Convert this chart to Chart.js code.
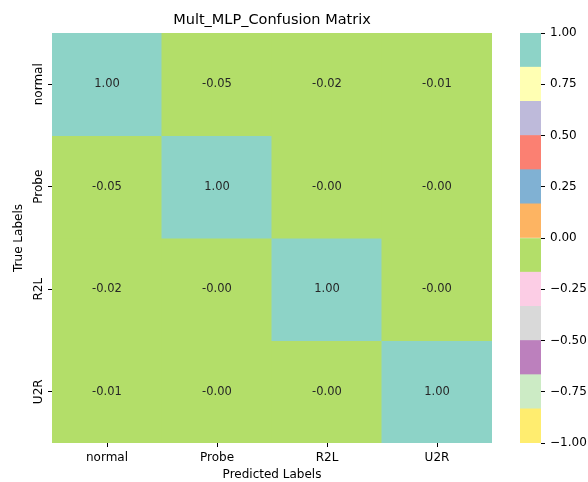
<!DOCTYPE html>
<html>
<head>
<meta charset="utf-8">
<script src="https://cdn.jsdelivr.net/npm/chart.js@4/dist/chart.umd.min.js"></script>
<style>
  html, body { margin: 0; padding: 0; background: #ffffff; }
  #wrap { position: relative; width: 588px; height: 482px; }
  #wrap canvas { position: absolute; left: 0; top: 0; }
</style>
</head>
<body>
<div id="wrap">
  <canvas id="heat" width="588" height="482"></canvas>
  <canvas id="cbar" width="588" height="482"></canvas>
</div>
<script>
// Class names (columns = predicted, rows = true)
const predictedLabels = ['normal', 'Probe', 'R2L', 'U2R'];
const trueLabels = ['normal', 'Probe', 'R2L', 'U2R'];

// One row of the matrix per true class
const rowNormal = [1.00, -0.05, -0.02, -0.01];
const rowProbe  = [-0.05, 1.00, -0.004, -0.003];
const rowR2L    = [-0.02, -0.004, 1.00, -0.002];
const rowU2R    = [-0.01, -0.003, -0.002, 1.00];
const matrixRows = [rowNormal, rowProbe, rowR2L, rowU2R];

// Colour scale range and its tick labels
const vMin = -1;
const vMax = 1;
const colorbarTicks = [-1.00, -0.75, -0.50, -0.25, 0.00, 0.25, 0.50, 0.75, 1.00];

// Reversed Set3 palette, listed from the low end to the high end
const palette = ['#ffed6f', '#ccebc5', '#bc80bd', '#d9d9d9', '#fccde5', '#b3de69',
                 '#fdb462', '#80b1d3', '#fb8072', '#bebada', '#ffffb3', '#8dd3c7'];

function colorFor(v) {
  let idx = Math.floor((v - vMin) / (vMax - vMin) * palette.length);
  idx = Math.max(0, Math.min(palette.length - 1, idx));
  return palette[idx];
}

const FONT = '"DejaVu Sans", sans-serif';
Chart.defaults.font.family = FONT;
Chart.defaults.color = '#000000';

// ---------- heatmap ----------
const heatDatasets = matrixRows.map((row, r) => ({
  label: trueLabels[r],
  data: row.map(() => [r, r + 1]),
  values: row,
  backgroundColor: row.map(colorFor),
  borderWidth: 0,
  inflateAmount: 0.5,
  barPercentage: 1,
  categoryPercentage: 1,
  grouped: false
}));

const cellText = {
  id: 'cellText',
  afterDatasetsDraw(chart) {
    const ctx = chart.ctx;
    ctx.save();
    ctx.font = '11.5px ' + FONT;
    ctx.fillStyle = '#262626';
    ctx.textAlign = 'center';
    ctx.textBaseline = 'middle';
    chart.data.datasets.forEach((ds, di) => {
      chart.getDatasetMeta(di).data.forEach((bar, j) => {
        const p = bar.getProps(['x', 'y', 'base'], true);
        ctx.fillText(ds.values[j].toFixed(2), p.x, (p.y + p.base) / 2);
      });
    });
    ctx.restore();
  }
};

// Row names on the left, rotated to read bottom-to-top
const rowNames = {
  id: 'rowNames',
  afterDraw(chart) {
    const s = chart.scales.y;
    const ctx = chart.ctx;
    ctx.save();
    ctx.font = '12px ' + FONT;
    ctx.fillStyle = '#000000';
    ctx.textAlign = 'center';
    ctx.textBaseline = 'middle';
    s.ticks.forEach((t, i) => {
      const y = s.getPixelForValue(t.value);
      ctx.save();
      ctx.translate(s.right - 13, y);
      ctx.rotate(-Math.PI / 2);
      ctx.fillText(trueLabels[i], 0, 0);
      ctx.restore();
    });
    ctx.restore();
  }
};

new Chart(document.getElementById('heat'), {
  type: 'bar',
  data: { labels: predictedLabels, datasets: heatDatasets },
  plugins: [cellText, rowNames],
  options: {
    responsive: false,
    animation: false,
    devicePixelRatio: 1,
    layout: { padding: { left: 0, right: 96, top: 0, bottom: 0 } },
    plugins: {
      legend: { display: false },
      tooltip: { enabled: false },
      title: {
        display: true,
        text: 'Mult_MLP_Confusion Matrix',
        fullSize: false,
        color: '#000000',
        font: { size: 14.5, weight: 'normal', family: FONT },
        padding: { top: 11.8, bottom: 3.8 }
      }
    },
    scales: {
      x: {
        type: 'category',
        offset: true,
        grid: { display: true, drawOnChartArea: false, drawTicks: true, tickLength: 4, offset: false, color: '#000000', lineWidth: 1 },
        border: { display: false },
        ticks: { color: '#000000', font: { size: 12 }, padding: 4, maxRotation: 0, minRotation: 0 },
        title: { display: true, text: 'Predicted Labels', color: '#000000', font: { size: 12 }, padding: { top: 0, bottom: 0 } },
        afterFit(scale) { scale.height = 39; }
      },
      y: {
        type: 'linear',
        min: 0,
        max: 4,
        reverse: true,
        afterBuildTicks(scale) {
          scale.ticks = trueLabels.map((_, i) => ({ value: i + 0.5 }));
        },
        grid: { display: true, drawOnChartArea: false, drawTicks: true, tickLength: 4, color: '#000000', lineWidth: 1 },
        border: { display: false },
        ticks: { callback: () => '', padding: 0 },
        title: { display: true, text: 'True Labels', color: '#000000', font: { size: 12 }, padding: { top: 12, bottom: 0 } },
        afterFit(scale) { scale.width = 52; }
      }
    }
  }
});

// ---------- colour bar ----------
const binEdges = palette.map((_, i) => vMin + (vMax - vMin) * i / palette.length);
const cbarDatasets = palette.map((c, i) => ({
  data: [[binEdges[i], binEdges[i] + (vMax - vMin) / palette.length]],
  backgroundColor: c,
  borderWidth: 0,
  barPercentage: 1,
  categoryPercentage: 1,
  grouped: false
}));

new Chart(document.getElementById('cbar'), {
  type: 'bar',
  data: { labels: [''], datasets: cbarDatasets },
  options: {
    responsive: false,
    animation: false,
    devicePixelRatio: 1,
    layout: { padding: { left: 520, right: 0, top: 33, bottom: 39 } },
    plugins: { legend: { display: false }, tooltip: { enabled: false }, title: { display: false } },
    scales: {
      x: { display: false },
      y: {
        type: 'linear',
        position: 'right',
        min: vMin,
        max: vMax,
        afterBuildTicks(scale) {
          scale.ticks = colorbarTicks.map(v => ({ value: v }));
        },
        grid: { display: true, drawOnChartArea: false, drawTicks: true, tickLength: 4, color: '#000000', lineWidth: 1 },
        border: { display: false },
        ticks: {
          color: '#000000',
          font: { size: 12 },
          padding: 5,
          callback: (v) => (v < 0 ? '\u2212' : '') + Math.abs(v).toFixed(2)
        },
        afterFit(scale) { scale.width = 47; }
      }
    }
  }
});
</script>
</body>
</html>
